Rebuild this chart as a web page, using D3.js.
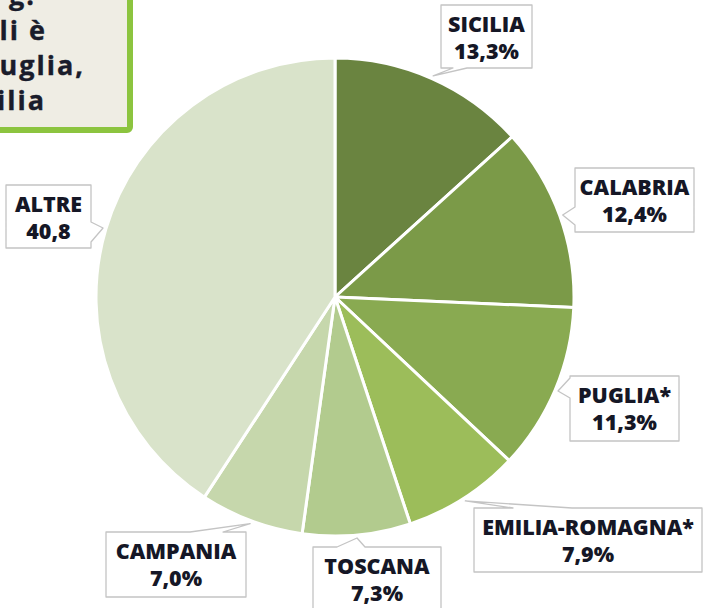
<!DOCTYPE html>
<html>
<head>
<meta charset="utf-8">
<script src="https://cdn.jsdelivr.net/npm/d3@7"></script>
<style>
  html, body { margin: 0; padding: 0; background: #fff; }
  svg { display: block; }
</style>
</head>
<body>
<div id="pie-chart"></div>
<script>
// dati
const regions = ["SICILIA", "CALABRIA", "PUGLIA*", "EMILIA-ROMAGNA*", "TOSCANA", "CAMPANIA", "ALTRE"];
const shares = [13.3, 12.4, 11.3, 7.9, 7.3, 7.0, 40.8];
const shareLabels = ["13,3%", "12,4%", "11,3%", "7,9%", "7,3%", "7,0%", "40,8"];
const sliceColors = ["#6a8440", "#7b9a48", "#89aa51", "#9cbd5a", "#b2cb8e", "#c6d7ac", "#d9e3ca"];
const noteLines = ["g.", "li è", "uglia,", "ilia"];

// posizione dei riquadri delle etichette (lato del puntatore e suoi estremi)
const labelBoxes = [
  { x: 441, y: 5,   w: 91,  h: 63, side: "bottom", b0: 453, b1: 467 },
  { x: 575, y: 168, w: 119, h: 64, side: "left",   b0: 207, b1: 225 },
  { x: 570, y: 376, w: 109, h: 65, side: "left",   b0: 378, b1: 398 },
  { x: 474, y: 508, w: 228, h: 64, side: "top",    b0: 513, b1: 572 },
  { x: 313, y: 547, w: 128, h: 70, side: "top",    b0: 337, b1: 365 },
  { x: 106, y: 532, w: 140, h: 65, side: "top",    b0: 190, b1: 223 },
  { x: 6,   y: 185, w: 85,  h: 63, side: "right",  b0: 222, b1: 242 }
];

const createPieChart = () => {
  const container = d3.select("#pie-chart");
  container.selectAll("*").remove();
  const w = 704, h = 608;
  const cx = 335, cy = 297, r = 239;
  const svg = container.append("svg").attr("width", w).attr("height", h);

  // riquadro di testo in alto a sinistra (tagliato)
  const note = svg.append("g");
  note.append("rect")
    .attr("x", -20).attr("y", -20)
    .attr("width", 150).attr("height", 150)
    .attr("rx", 3)
    .attr("fill", "#efede4")
    .attr("stroke", "#8cc43f")
    .attr("stroke-width", 6);
  const noteEnds = [36, 47, 85, 46];
  note.selectAll("text")
    .data(noteLines)
    .join("text")
    .attr("x", (d, i) => noteEnds[i])
    .attr("y", (d, i) => 5 + i * 35)
    .attr("text-anchor", "end")
    .attr("font-family", "Open Sans, sans-serif")
    .attr("font-weight", 700)
    .attr("font-size", 27)
    .attr("letter-spacing", 2)
    .attr("fill", "#1a1c2b")
    .attr("stroke", "#1a1c2b")
    .attr("stroke-width", 0.4)
    .text(d => d);

  // torta
  const pie = d3.pie().sort(null).value(d => d).startAngle(0).endAngle(2 * Math.PI);
  const arcs = pie(shares);
  const arc = d3.arc().innerRadius(0).outerRadius(r);
  const tipArc = d3.arc().innerRadius(r + 3).outerRadius(r + 3);

  const g = svg.append("g").attr("transform", `translate(${cx},${cy})`);
  g.selectAll("path")
    .data(arcs)
    .join("path")
    .attr("d", arc)
    .attr("fill", (d, i) => sliceColors[i])
    .attr("stroke", "#fff")
    .attr("stroke-width", 3)
    .attr("stroke-linejoin", "round");

  // riquadri con puntatore verso la fetta
  const calloutPath = (b, tip) => {
    const L = b.x, R = b.x + b.w, T = b.y, B = b.y + b.h;
    const pts = [[L, T]];
    if (b.side === "top") pts.push([b.b0, T], tip, [b.b1, T]);
    pts.push([R, T]);
    if (b.side === "right") pts.push([R, b.b0], tip, [R, b.b1]);
    pts.push([R, B]);
    if (b.side === "bottom") pts.push([b.b1, B], tip, [b.b0, B]);
    pts.push([L, B]);
    if (b.side === "left") pts.push([L, b.b1], tip, [L, b.b0]);
    return "M" + pts.map(p => p.join(",")).join("L") + "Z";
  };

  const labels = svg.append("g")
    .selectAll("g")
    .data(arcs)
    .join("g");

  labels.append("path")
    .attr("d", (d, i) => {
      const c = tipArc.centroid(d);
      return calloutPath(labelBoxes[i], [cx + c[0], cy + c[1]]);
    })
    .attr("fill", "#fff")
    .attr("stroke", "#c4c4c4")
    .attr("stroke-width", 1.3)
    .attr("stroke-linejoin", "round");

  const txt = labels.append("text")
    .attr("text-anchor", "middle")
    .attr("font-family", "Open Sans, sans-serif")
    .attr("font-weight", 800)
    .attr("font-size", 21.5)
    .attr("fill", "#151726");
  txt.append("tspan")
    .attr("x", (d, i) => labelBoxes[i].x + labelBoxes[i].w / 2)
    .attr("y", (d, i) => labelBoxes[i].y + 27)
    .text((d, i) => regions[i]);
  txt.append("tspan")
    .attr("x", (d, i) => labelBoxes[i].x + labelBoxes[i].w / 2)
    .attr("y", (d, i) => labelBoxes[i].y + 54)
    .text((d, i) => shareLabels[i]);
};

createPieChart();
</script>
</body>
</html>
